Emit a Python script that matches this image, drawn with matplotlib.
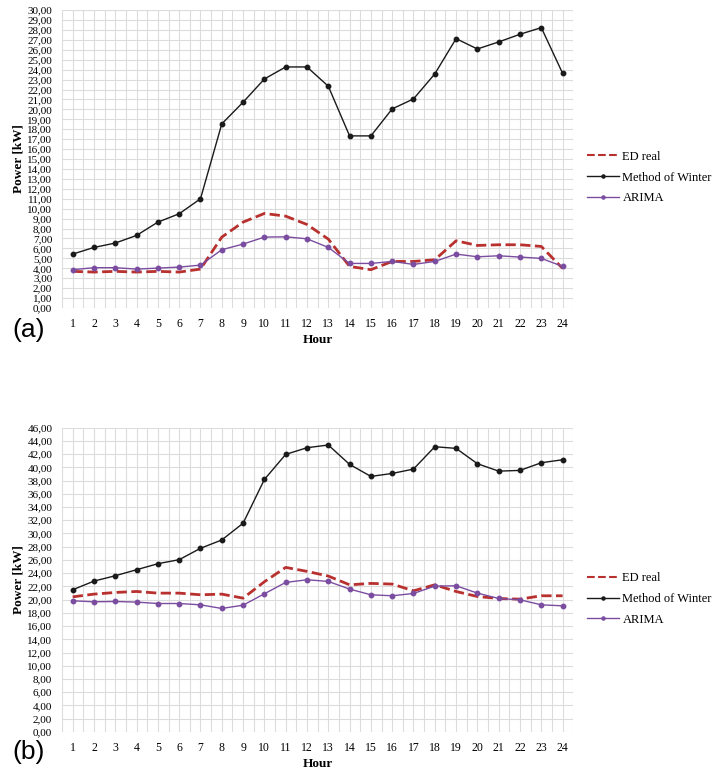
import matplotlib
matplotlib.use('Agg')
import matplotlib.pyplot as plt
from matplotlib.ticker import FuncFormatter, MultipleLocator
import numpy as np

hours = list(range(1, 25))

# panel (a)
ed_a = [3.69, 3.62, 3.69, 3.62, 3.69, 3.62, 3.92, 7.14, 8.65, 9.52, 9.25, 8.41,
        6.94, 4.19, 3.86, 4.69, 4.69, 4.86, 6.77, 6.30, 6.37, 6.37, 6.20, 3.99]
winter_a = [5.43, 6.10, 6.54, 7.31, 8.65, 9.49, 11.0, 18.54, 20.72, 23.06, 24.27, 24.27,
            22.33, 17.33, 17.33, 20.05, 21.05, 23.57, 27.12, 26.08, 26.79, 27.56, 28.23, 23.63]
arima_a = [3.86, 4.06, 4.06, 3.92, 4.02, 4.12, 4.32, 5.87, 6.44, 7.14, 7.17, 6.97,
           6.10, 4.49, 4.49, 4.69, 4.39, 4.69, 5.43, 5.16, 5.26, 5.13, 5.00, 4.19]

# panel (b)
ed_b = [20.42, 20.83, 21.08, 21.23, 20.98, 20.98, 20.73, 20.83, 20.22, 22.70, 24.87, 24.27,
        23.56, 22.24, 22.45, 22.35, 21.33, 22.24, 21.23, 20.47, 20.17, 20.07, 20.58, 20.58]
winter_b = [21.49, 22.80, 23.61, 24.52, 25.43, 26.04, 27.76, 29.02, 31.55, 38.17, 41.96, 42.97,
            43.38, 40.45, 38.63, 39.08, 39.74, 43.12, 42.87, 40.55, 39.43, 39.54, 40.70, 41.15]
arima_b = [19.82, 19.67, 19.72, 19.62, 19.41, 19.41, 19.21, 18.66, 19.16, 20.88, 22.60, 23.00,
           22.75, 21.59, 20.73, 20.58, 20.93, 22.04, 22.09, 20.98, 20.17, 19.97, 19.21, 19.06]

plt.rcParams['font.family'] = ['Liberation Serif', 'DejaVu Serif']

fig = plt.figure(figsize=(7.13, 7.72), dpi=100)
ax_a = fig.add_axes([0.087, 0.601, 0.717, 0.386])
ax_b = fig.add_axes([0.087, 0.052, 0.717, 0.394])

comma = FuncFormatter(lambda v, p: ('%.2f' % v).replace('.', ','))

panels = [(ax_a, ed_a, winter_a, arima_a, 30, 1, '(a)', 0.573, 0.770),
          (ax_b, ed_b, winter_b, arima_b, 46, 2, '(b)', 0.026, 0.224)]

for ax, ed, win, ar, ymax, step, tag, ytag, leg_y in panels:
    ax.plot(hours, ed, color='#B8312F', ls='--', lw=2, label='ED real', zorder=3)
    ax.plot(hours, win, color='#1a1a1a', lw=1, marker='o', ms=3.2, label='Method of Winter', zorder=4)
    ax.plot(hours, ar, color='#7B4DA0', lw=1, marker='o', ms=3.2, label='ARIMA', zorder=5)

    ax.set_xlim(0.5, 24.5)
    ax.set_ylim(0, ymax)
    ax.set_xticks(hours)
    ax.xaxis.set_minor_locator(MultipleLocator(0.5))
    ax.yaxis.set_major_locator(MultipleLocator(step))
    ax.yaxis.set_major_formatter(comma)
    ax.grid(True, which='both', axis='x', color='#DCDCDC', lw=0.8)
    ax.grid(True, which='major', axis='y', color='#DCDCDC', lw=0.8)
    ax.set_axisbelow(True)
    for s in ax.spines.values():
        s.set_visible(False)
    ax.tick_params(axis='both', which='both', length=0)
    ax.tick_params(axis='y', labelsize=8, pad=7)
    ax.tick_params(axis='x', labelsize=8.5, pad=7)
    ax.set_xlabel('Hour', fontsize=9.5, fontweight='bold', labelpad=3)
    ax.set_ylabel('Power [kW]', fontsize=9.5, fontweight='bold', labelpad=2)

    fig.text(0.018, ytag, tag, fontsize=19, family='Liberation Sans', va='center')
    leg = ax.legend(loc='center left', bbox_to_anchor=(0.823, leg_y), bbox_transform=fig.transFigure,
                    frameon=False, fontsize=9, handlelength=2.6, handletextpad=0.25,
                    labelspacing=0.7, markerscale=0.7, borderpad=0, borderaxespad=0)
    leg.get_lines()[0].set_linewidth(1.5)

fig.savefig('out.png', dpi=100)
